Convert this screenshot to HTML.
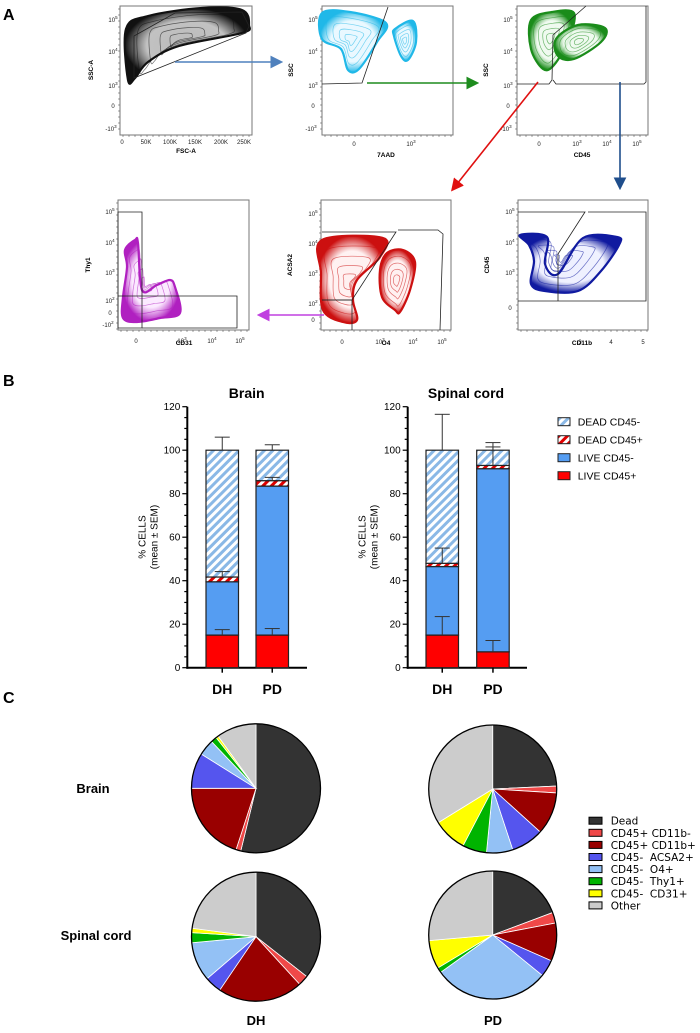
<!DOCTYPE html>
<html><head><meta charset="utf-8"><style>
html,body{margin:0;padding:0;background:#fff;}
svg{display:block;font-family:"Liberation Sans",Arial,sans-serif;}
</style></head><body>
<svg id="fig" width="700" height="1033" viewBox="0 0 700 1033" xmlns="http://www.w3.org/2000/svg">
<defs>
<pattern id="hatchBlue" patternUnits="userSpaceOnUse" width="6" height="6" patternTransform="rotate(45)"><rect width="6" height="6" fill="#fff"/><rect width="3" height="6" fill="#8ab8e6"/></pattern>
<pattern id="hatchRed" patternUnits="userSpaceOnUse" width="6" height="6" patternTransform="rotate(45)"><rect width="6" height="6" fill="#fff"/><rect width="3" height="6" fill="#e00000"/></pattern>
<marker id="ahBlue" markerWidth="8" markerHeight="8" refX="6" refY="4" orient="auto"><path d="M0,0 L8,4 L0,8 z" fill="#4f81bd"/></marker>
<marker id="ahGreen" markerWidth="8" markerHeight="8" refX="6" refY="4" orient="auto"><path d="M0,0 L8,4 L0,8 z" fill="#1e8c1e"/></marker>
<marker id="ahRed" markerWidth="8" markerHeight="8" refX="6" refY="4" orient="auto"><path d="M0,0 L8,4 L0,8 z" fill="#e01010"/></marker>
<marker id="ahNavy" markerWidth="8" markerHeight="8" refX="6" refY="4" orient="auto"><path d="M0,0 L8,4 L0,8 z" fill="#1f4e8c"/></marker>
<marker id="ahMag" markerWidth="8" markerHeight="8" refX="6" refY="4" orient="auto"><path d="M0,0 L8,4 L0,8 z" fill="#c040e0"/></marker>
</defs>
<g font-weight="bold" font-size="16">
<text x="3" y="20">A</text>
<text x="3" y="386">B</text>
<text x="3" y="703">C</text>
</g>
<g id="panelA"></g>
<g id="panelB"></g>
<g id="panelC"></g>
</svg>
<script>
// ---------- Panel B data ----------
const barCategories = ['DH','PD'];
const brainLivePos = [15, 15];
const brainLiveNeg = [24.5, 68.5];
const brainDeadPos = [2.2, 2.5];
const brainDeadNeg = [58.3, 14];
const brainErrLivePos = [2.5, 3];
const brainErrDeadPos = [2.5, 1.5];
const brainErrTotal = [6, 2.5];
const spinalLivePos = [15, 7.3];
const spinalLiveNeg = [31.5, 84.2];
const spinalDeadPos = [1.5, 1.5];
const spinalDeadNeg = [52, 7];
const spinalErrLivePos = [8.5, 5.2];
const spinalErrDeadPos = [7, 8.5];
const spinalErrTotal = [16.5, 3.5];
const yTicks = [0,20,40,60,80,100,120];
const legendLabels = ['DEAD CD45-','DEAD CD45+','LIVE CD45-','LIVE CD45+'];

// ---------- Panel C data (percent, clockwise from top) ----------
const pieCategories = ['Dead','CD45+ CD11b-','CD45+ CD11b+','CD45-  ACSA2+','CD45-  O4+','CD45-  Thy1+','CD45-  CD31+','Other'];
const pieBrainDH = [53.8, 1.2, 20, 8.9, 4, 1.5, 0.6, 10];
const pieBrainPD = [24.2, 1.7, 10.7, 8.2, 6.6, 6.1, 8.5, 33.7];
const pieSpinalDH = [35.6, 2.6, 21.3, 4.2, 9.8, 2.5, 1.1, 22.9];
const pieSpinalPD = [19.3, 2.7, 9.6, 4.3, 29.2, 1.3, 7.2, 26.4];

const NS='http://www.w3.org/2000/svg';
function mk(tag, attrs, parent){const e=document.createElementNS(NS,tag);for(const k in attrs)e.setAttribute(k,attrs[k]);parent.appendChild(e);return e;}
function tx(parent,x,y,s,size,extra){const t=mk('text',Object.assign({x:x,y:y,'font-size':size},extra||{}),parent);t.textContent=s;return t;}

// ---------- Panel A ----------
const A=document.getElementById('panelA');
let gid=0;
function smooth(pts){let d='';const n=pts.length;for(let i=0;i<n;i++){const p0=pts[(i-1+n)%n],p1=pts[i],p2=pts[(i+1)%n],p3=pts[(i+2)%n];if(i===0)d+='M'+p1[0]+','+p1[1];const c1=[p1[0]+(p2[0]-p0[0])/6,p1[1]+(p2[1]-p0[1])/6],c2=[p2[0]-(p3[0]-p1[0])/6,p2[1]-(p3[1]-p1[1])/6];d+=' C'+c1[0].toFixed(1)+','+c1[1].toFixed(1)+' '+c2[0].toFixed(1)+','+c2[1].toFixed(1)+' '+p2[0]+','+p2[1];}return d+'Z';}
function blob(g,pts,color,light,name){
  const id='gr'+(gid++);const defs=document.querySelector('defs');
  const rg=mk('radialGradient',{id:id},defs);
  mk('stop',{offset:'0%','stop-color':light},rg);mk('stop',{offset:'65%','stop-color':light,'stop-opacity':0.9},rg);mk('stop',{offset:'100%','stop-color':color},rg);
  const p=mk('path',{d:smooth(pts),fill:'url(#'+id+')',stroke:color,'stroke-width':2.2},g);
  
  
  let cx=0,cy=0;pts.forEach(q=>{cx+=q[0];cy+=q[1];});cx/=pts.length;cy/=pts.length;
  [0.78,0.56,0.36,0.18].forEach(s=>{const ip=pts.map(q=>[+(cx+(q[0]-cx)*s).toFixed(1),+(cy+(q[1]-cy)*s).toFixed(1)]);mk('path',{d:smooth(ip),fill:'none',stroke:color,'stroke-width':0.7,opacity:0.6},g);});
}
function frame(x0,y0,x1,y1,name){const r=mk('rect',{x:x0,y:y0,width:x1-x0,height:y1-y0,fill:'none',stroke:'#777','stroke-width':1},A);
  for(let x=x0+3;x<x1;x+=6)mk('line',{x1:x,y1:y1,x2:x,y2:y1+2,stroke:'#444','stroke-width':0.5},A);
  for(let y=y0+3;y<y1;y+=6)mk('line',{x1:x0,y1:y,x2:x0-2,y2:y,stroke:'#444','stroke-width':0.5},A);}
function gate(pts,closed){mk(closed?'polygon':'polyline',{points:pts.map(p=>p.join(',')).join(' '),fill:'none',stroke:'#222','stroke-width':0.8},A);}
function ylab(x,y,s){const t=tx(A,x,y,s,6.5,{'font-weight':'bold','text-anchor':'middle',transform:'rotate(-90 '+x+' '+y+')'});return t;}
function tick(x,y,s,sup){const t=tx(A,x,y,s,6,{'text-anchor':'middle',fill:'#222'});if(sup){const ts=mk('tspan',{dy:-3,'font-size':4.5},t);ts.textContent=sup;}}

// Plot 1 FSC/SSC
frame(120,6,252,135,'fsc-ssc-plot');
blob(A,[[128,80],[126,29],[148,16],[202,8],[242,10],[249,25],[242,33],[179,46],[148,62],[135,78]],'#111','#bbb','live-cells-density');
gate([[134,78],[134,36],[175,13],[242,12],[249,26],[246,33]],true);
ylab(93,70,'SSC-A');tx(A,186,153,'FSC-A',6.5,{'font-weight':'bold','text-anchor':'middle'});
tick(113,22,'10','5');tick(113,54,'10','4');tick(113,88,'10','3');tick(113,108,'0');tick(111,131,'-10','3');
['0','50K','100K','150K','200K','250K'].forEach((s,i)=>tick([122,146,170,195,221,244][i],144,s));

// Plot 2 7AAD
frame(322,6,453,135,'7aad-ssc-plot');
blob(A,[[322,13],[350,12],[386,23],[377,42],[359,69],[348,70],[341,49],[322,39]],'#20b8e8','#e8f8ff','live-7aad-negative-density');
blob(A,[[395,29],[413,21],[416,42],[408,60],[401,56],[394,36]],'#20b8e8','#e8f8ff','dead-7aad-positive-density');
gate([[322,84],[362,83],[388,7]],false);
ylab(293,70,'SSC');tx(A,386,157,'7AAD',6.5,{'font-weight':'bold','text-anchor':'middle'});
tick(313,22,'10','5');tick(313,54,'10','4');tick(313,88,'10','3');tick(313,108,'0');tick(311,131,'-10','3');
tick(354,146,'0');tick(411,146,'10','3');

// Plot 3 CD45
frame(517,6,648,135,'cd45-ssc-plot');
blob(A,[[531,20],[552,12],[574,13],[569,39],[554,65],[543,69],[531,49]],'#1a8c1a','#eefaee','cd45-negative-density');
blob(A,[[556,39],[578,25],[605,28],[601,42],[574,59],[558,56]],'#1a8c1a','#eefaee','cd45-positive-density');
gate([[517,84],[549,84],[552,80],[553,35],[586,6]],false);
gate([[553,80],[556,84],[644,84],[646,82],[646,6]],false);
ylab(488,70,'SSC');tx(A,582,157,'CD45',6.5,{'font-weight':'bold','text-anchor':'middle'});
tick(508,22,'10','5');tick(508,54,'10','4');tick(508,88,'10','3');tick(508,108,'0');tick(506,131,'-10','3');
tick(539,146,'0');tick(577,146,'10','3');tick(607,146,'10','4');tick(637,146,'10','5');

// Plot 4 Thy1/CD31
frame(118,200,249,330,'cd31-thy1-plot');
blob(A,[[125,250],[135,240],[138,243],[142,290],[157,285],[170,280],[175,287],[180,313],[160,318],[137,322],[123,318],[123,297],[127,267]],'#b020c0','#fbe8ff','cd45-negative-subsets-density');
gate([[118,212],[142,212],[142,328],[118,328]],true);
gate([[118,296],[237,296],[237,328],[142,328]],false);
ylab(90,265,'Thy1');tx(A,184,345,'CD31',6.5,{'font-weight':'bold','text-anchor':'middle'});
tick(110,214,'10','5');tick(110,245,'10','4');tick(110,275,'10','3');tick(110,303,'10','2');tick(110,315,'0');tick(108,327,'-10','2');
tick(136,343,'0');tick(182,343,'10','3');tick(212,343,'10','4');tick(240,343,'10','5');

// Plot 5 ACSA2/O4
frame(321,200,451,330,'o4-acsa2-plot');
blob(A,[[322,240],[383,238],[380,257],[357,280],[353,300],[357,320],[343,322],[323,310],[321,273]],'#cc1010','#fff0f0','acsa2-positive-density');
blob(A,[[387,253],[403,250],[415,262],[410,290],[400,312],[395,310],[382,297],[380,270]],'#cc1010','#fff0f0','o4-positive-density');
gate([[322,232],[393,232],[396,232],[352,300],[322,300]],false);
gate([[398,230],[438,230],[443,234],[440,330]],false);
gate([[322,300],[352,300],[352,330]],false);
ylab(292,265,'ACSA2');tx(A,386,345,'O4',6.5,{'font-weight':'bold','text-anchor':'middle'});
tick(313,216,'10','5');tick(313,246,'10','4');tick(313,276,'10','3');tick(313,306,'10','2');tick(313,322,'0');
tick(342,344,'0');tick(380,344,'10','3');tick(413,344,'10','4');tick(442,344,'10','5');

// Plot 6 CD45/CD11b
frame(518,200,648,330,'cd11b-cd45-plot');
blob(A,[[520,235],[547,237],[545,264],[558,274],[583,238],[617,237],[619,245],[601,271],[578,291],[545,291],[531,284],[534,261],[529,245]],'#101aa0','#eef0ff','cd45-positive-cd11b-density');
gate([[518,212],[585,212],[558,254],[558,301]],false);
gate([[588,212],[646,212],[646,301],[518,301]],false);
ylab(489,265,'CD45');tx(A,582,345,'CD11b',6.5,{'font-weight':'bold','text-anchor':'middle'});
tick(580,344,'3');tick(611,344,'4');tick(643,344,'5');
tick(510,214,'10','5');tick(510,245,'10','4');tick(510,275,'10','3');tick(510,310,'0');

// arrows
[['M175,62 L280,62','ahBlue','#4f81bd','arrow-to-7aad'],['M367,83 L476,83','ahGreen','#1e8c1e','arrow-to-cd45'],
 ['M538,82 L453,189','ahRed','#e01010','arrow-to-acsa2-o4'],['M620,82 L620,187','ahNavy','#1f4e8c','arrow-to-cd11b'],
 ['M324,315 L260,315','ahMag','#c040e0','arrow-to-thy1-cd31']].forEach(a=>{
  const p=mk('path',{d:a[0],stroke:a[2],'stroke-width':1.6,fill:'none','marker-end':'url(#'+a[1]+')'},A);
  
  
});

// ---------- Panel B ----------
const B=document.getElementById('panelB');
const pxPerUnit=(667.7-406.7)/120;
function yScale(v){return 667.7-v*pxPerUnit;}
function barChart(axX, axEnd, barXs, title, titleX, lp, ln, dp, dn, eLP, eDP, eT, key){
  const g=mk('g',{},B);
  
  
  const t=tx(g,titleX,398,title,14,{'font-weight':'bold','text-anchor':'middle'});
  
  
  mk('line',{x1:axX,y1:yScale(120),x2:axX,y2:yScale(0)+1,stroke:'#000','stroke-width':2},g);
  mk('line',{x1:axX-1,y1:yScale(0),x2:axEnd,y2:yScale(0),stroke:'#000','stroke-width':2},g);
  for(let v=0;v<=120;v+=5){mk('line',{x1:axX-(v%20===0?5:3),y1:yScale(v),x2:axX,y2:yScale(v),stroke:'#000','stroke-width':1.2},g);}
  yTicks.forEach(v=>tx(g,axX-7,yScale(v)+3.5,String(v),10,{'text-anchor':'end'}));
  const lx=axX-42,ly=537;
  const yl=tx(g,lx,ly,'% CELLS',10,{'text-anchor':'middle',transform:'rotate(-90 '+lx+' '+ly+')'});
  
  
  tx(g,lx+12,ly,'(mean ± SEM)',10,{'text-anchor':'middle',transform:'rotate(-90 '+(lx+12)+' '+ly+')'});
  barCategories.forEach((c,i)=>{
    const x=barXs[i],w=32.5;
    const segs=[[lp[i],'#ff0000','live-cd45pos'],[ln[i],'#559df2','live-cd45neg'],[dp[i],'url(#hatchRed)','dead-cd45pos'],[dn[i],'url(#hatchBlue)','dead-cd45neg']];
    let base=0;const tops=[];
    segs.forEach(s=>{const r=mk('rect',{x:x,y:yScale(base+s[0]),width:w,height:s[0]*pxPerUnit,fill:s[1],stroke:'#222','stroke-width':1.2},g);
      
      
      base+=s[0];tops.push(base);});
    [[tops[0],eLP[i]],[tops[2],eDP[i]],[tops[3],eT[i]]].forEach(e=>{
      const cx=x+w/2;mk('line',{x1:cx,y1:yScale(e[0]),x2:cx,y2:yScale(e[0]+e[1]),stroke:'#333','stroke-width':1},g);
      mk('line',{x1:cx-7.5,y1:yScale(e[0]+e[1]),x2:cx+7.5,y2:yScale(e[0]+e[1]),stroke:'#333','stroke-width':1},g);});
    mk('line',{x1:x+w/2,y1:yScale(0),x2:x+w/2,y2:yScale(0)+5,stroke:'#000','stroke-width':1.5},g);
    const cl=tx(g,x+w/2,694,c,14,{'font-weight':'bold','text-anchor':'middle'});
    
    
  });
}
barChart(187.3,307,[206,256],'Brain',246.7,brainLivePos,brainLiveNeg,brainDeadPos,brainDeadNeg,brainErrLivePos,brainErrDeadPos,brainErrTotal,'brain');
barChart(407.7,527,[426,476.7],'Spinal cord',466,spinalLivePos,spinalLiveNeg,spinalDeadPos,spinalDeadNeg,spinalErrLivePos,spinalErrDeadPos,spinalErrTotal,'spinal');
const legFills=['url(#hatchBlue)','url(#hatchRed)','#559df2','#ff0000'];
legendLabels.forEach((s,i)=>{
  const y=421.7+i*18;
  const g=mk('g',{},B);
  
  
  mk('rect',{x:558,y:y-4,width:12,height:8,fill:legFills[i],stroke:'#222','stroke-width':1},g);
  tx(g,577.7,y+4,s,10.5);
});

// ---------- Panel C ----------
const C=document.getElementById('panelC');
const pieColors=['#333333','#f04848','#990000','#5555ee','#93c1f5','#00b400','#ffff00','#cccccc'];
function pie(cx,cy,r,vals,name){
  const g=mk('g',{},C);
  
  
  const tot=vals.reduce((a,b)=>a+b,0);let a0=0;
  vals.forEach((v,i)=>{
    const a1=a0+v/tot*2*Math.PI;
    const x0=cx+r*Math.sin(a0),y0=cy-r*Math.cos(a0),x1=cx+r*Math.sin(a1),y1=cy-r*Math.cos(a1);
    const large=(a1-a0)>Math.PI?1:0;
    const p=mk('path',{d:'M'+cx+','+cy+' L'+x0.toFixed(2)+','+y0.toFixed(2)+' A'+r+','+r+' 0 '+large+' 1 '+x1.toFixed(2)+','+y1.toFixed(2)+' Z',fill:pieColors[i],stroke:'#fff','stroke-width':0.8},g);
    
    
    a0=a1;});
  mk('circle',{cx:cx,cy:cy,r:r,fill:'none',stroke:'#000','stroke-width':1.3},g);
}
pie(256,788.3,64.5,pieBrainDH,'pie-brain-dh');
pie(492.7,789,64,pieBrainPD,'pie-brain-pd');
pie(256,936.7,64.5,pieSpinalDH,'pie-spinal-dh');
pie(492.7,935,64,pieSpinalPD,'pie-spinal-pd');
[['Brain',93,793,'row-label-brain'],['Spinal cord',96,940,'row-label-spinal-cord'],['DH',256,1025,'column-label-dh'],['PD',493,1025,'column-label-pd']].forEach(l=>{
  const t=tx(C,l[1],l[2],l[0],13,{'font-weight':'bold','text-anchor':'middle'});
  
  
});
pieCategories.forEach((s,i)=>{
  const y=820.7+i*12.1;
  const g=mk('g',{},C);
  
  
  mk('rect',{x:589,y:y-3.5,width:13,height:7,fill:pieColors[i],stroke:'#000','stroke-width':1},g);
  const t=tx(g,610.7,y+4,s,10.5,{'font-family':'"DejaVu Sans",sans-serif'});
  t.setAttribute('style','white-space:pre');
});
</script>
</body></html>
